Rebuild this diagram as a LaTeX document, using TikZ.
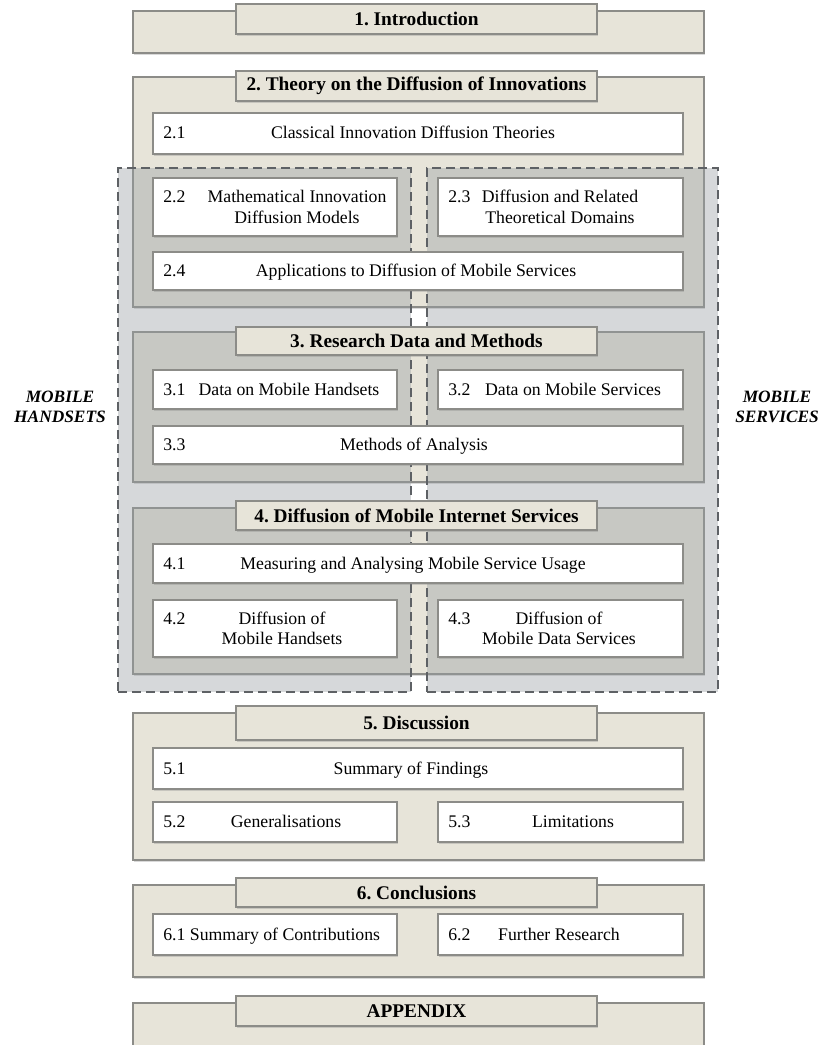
\documentclass[tikz,border=0pt]{standalone}
\usepackage{fontspec}
\setmainfont{Liberation Serif}
\usetikzlibrary{shadows,fit}
\frenchspacing

\definecolor{beige}{HTML}{E7E4D9}
\definecolor{frame}{HTML}{8C8C88}
\definecolor{dashgray}{HTML}{5E6165}
\definecolor{veil}{RGB}{152,158,163}

\tikzset{
  softshadow/.style={drop shadow={shadow xshift=1pt,shadow yshift=-1.3pt,opacity=0.3}},
  chapbox/.style={draw=frame, fill=beige, line width=1pt, inner sep=0pt, softshadow},
  headbox/.style={draw=frame, fill=beige, line width=1pt, inner sep=0pt, softshadow},
  headtxt/.style={inner sep=0pt, font=\fontsize{14.5}{16}\selectfont\bfseries},
  subbox/.style={draw=frame, fill=white, line width=1pt, inner sep=0pt, softshadow},
  lane/.style={draw=dashgray, line width=1.7pt, dash pattern=on 6.5pt off 4pt,
               fill=veil, fill opacity=0.4, inner sep=0pt},
  num/.style={anchor=base west, inner sep=0pt, font=\fontsize{13.3}{15.5}\selectfont},
  txt/.style={inner sep=0pt, anchor=base, font=\fontsize{13.3}{15.5}\selectfont},
  txttwo/.style={inner sep=0pt, align=center, font=\fontsize{13.3}{15.5}\selectfont},
  side/.style={inner sep=0pt, align=center, font=\fontsize{13}{15}\selectfont\bfseries\itshape},
}

% sub-section box: name, x1, y1, x2, y2, number, baseline of the number
\newcommand\subbox[7]{%
  \node[subbox, fit={(#2,#3) (#4,#5)}] (#1) {};
  \node[num] (#1n) at (#2+10,#7) {#6};
}
% chapter heading tab: name, x1, y1, x2, y2, title
\newcommand\headtab[6]{%
  \node[headbox, fit={(#2,#3) (#4,#5)}] (#1) {};
  \node[headtxt] (#1t) at (#1.center) {#6};
}

\begin{document}
\begin{tikzpicture}[x=0.75pt,y=-0.75pt]
\useasboundingbox (0,0) rectangle (825,1045);

% chapter frames
\node[chapbox, fit={(133,11) (704,53)}]   (c1) {};
\node[chapbox, fit={(133,77) (704,307)}]  (c2) {};
\node[chapbox, fit={(133,332) (704,482)}] (c3) {};
\node[chapbox, fit={(133,508) (704,674)}] (c4) {};
\node[chapbox, fit={(133,713) (704,860)}] (c5) {};
\node[chapbox, fit={(133,885) (704,977)}] (c6) {};
\node[chapbox, fit={(133,1003) (704,1070)}] (c7) {};

% the two dashed lanes: handsets and services
\node[lane, fit={(118,168) (411,692)}] (laneH) {};
\node[lane, fit={(427,168) (718,692)}] (laneS) {};

% chapter 2
\subbox{s21}{153}{113}{683}{154}{2.1}{139}
\node[txt] (s21t) at (413,139) {Classical Innovation Diffusion Theories};
\subbox{s22}{153}{178}{397}{236}{2.2}{202}
\node[txttwo] (s22t) at (297,207) {Mathematical Innovation\\Diffusion Models};
\subbox{s23}{438}{178}{683}{236}{2.3}{202}
\node[txttwo] (s23t) at (560,207) {Diffusion and Related\\Theoretical Domains};
\subbox{s24}{153}{252}{683}{290}{2.4}{276}
\node[txt] (s24t) at (416,276) {Applications to Diffusion of Mobile Services};

% chapter 3
\subbox{s31}{153}{370}{397}{409}{3.1}{395}
\node[txt] (s31t) at (289,395) {Data on Mobile Handsets};
\subbox{s32}{438}{370}{683}{409}{3.2}{395}
\node[txt] (s32t) at (573,395) {Data on Mobile Services};
\subbox{s33}{153}{426}{683}{464}{3.3}{450}
\node[txt] (s33t) at (414,450) {Methods of Analysis};

% chapter 4
\subbox{s41}{153}{544}{683}{583}{4.1}{569}
\node[txt] (s41t) at (413,569) {Measuring and Analysing Mobile Service Usage};
\subbox{s42}{153}{600}{397}{657}{4.2}{624}
\node[txttwo] (s42t) at (282,628.5) {Diffusion of\\Mobile Handsets};
\subbox{s43}{438}{600}{683}{657}{4.3}{624}
\node[txttwo] (s43t) at (559,628.5) {Diffusion of\\Mobile Data Services};

% chapter 5
\subbox{s51}{153}{748}{683}{789}{5.1}{774}
\node[txt] (s51t) at (411,774) {Summary of Findings};
\subbox{s52}{153}{802}{397}{842}{5.2}{827}
\node[txt] (s52t) at (286,827) {Generalisations};
\subbox{s53}{438}{802}{683}{842}{5.3}{827}
\node[txt] (s53t) at (573,827) {Limitations};

% chapter 6
\subbox{s61}{153}{914}{397}{955}{6.1}{940}
\node[txt] (s61t) at (285,940) {Summary of Contributions};
\subbox{s62}{438}{914}{683}{955}{6.2}{940}
\node[txt] (s62t) at (559,940) {Further Research};

% chapter headings
\headtab{h1}{236}{4}{597}{34}{1. Introduction}
\headtab{h2}{236}{71}{597}{101}{2. Theory on the Diffusion of Innovations}
\headtab{h3}{236}{327}{597}{355}{3. Research Data and Methods}
\headtab{h4}{236}{501}{597}{530}{4. Diffusion of Mobile Internet Services}
\headtab{h5}{236}{706}{597}{740}{5. Discussion}
\headtab{h6}{236}{878}{597}{907}{6. Conclusions}
\headtab{h7}{236}{996}{597}{1026}{APPENDIX}

% lane captions
\node[side] (labH) at (60,407) {MOBILE\\HANDSETS};
\node[side] (labS) at (777,407) {MOBILE\\SERVICES};
\end{tikzpicture}
\end{document}
